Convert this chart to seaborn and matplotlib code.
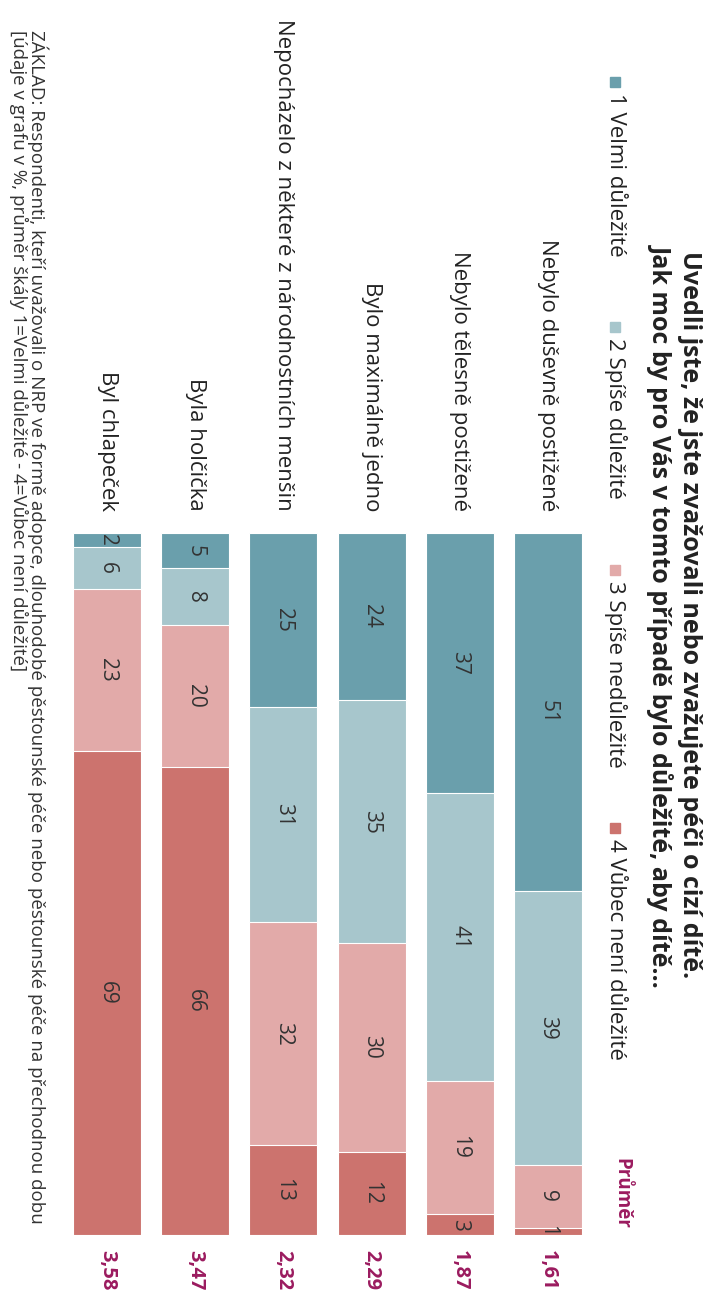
import pandas as pd
import matplotlib.pyplot as plt
from matplotlib.patches import Rectangle
import seaborn as sns

# --------------------------- SETTINGS ---------------------------
sns.set_theme(style="white")
plt.rcParams['font.family'] = ['Open Sans', 'DejaVu Sans']

# --------------------------- DATA ---------------------------
categories = ["Nebylo duševně postižené", "Nebylo tělesně postižené", "Bylo maximálně jedno",
              "Nepocházelo z některé z národnostních menšin", "Byla holčička", "Byl chlapeček"]
levels = ["1 Velmi důležité", "2 Spíše důležité", "3 Spíše nedůležité", "4 Vůbec není důležité"]
velmi = [51, 37, 24, 25, 5, 2]
spise = [39, 41, 35, 31, 8, 6]
spise_ne = [9, 19, 30, 32, 20, 23]
vubec = [1, 3, 12, 13, 66, 69]
prumer = ["1,61", "1,87", "2,29", "2,32", "3,47", "3,58"]

title = ("Uvedli jste, že jste zvažovali nebo zvažujete péči o cizí dítě.\n"
         "Jak moc by pro Vás v tomto případě bylo důležité, aby dítě…")
footnote = ("ZÁKLAD: Respondenti, kteří uvažovali o NRP ve formě adopce, dlouhodobé pěstounské péče "
            "nebo pěstounské péče na přechodnou dobu\n"
            "[údaje v grafu v %, průměr škály 1=Velmi důležité - 4=Vůbec není důležité]")

# --------------------- COLORS ---------------------
colors = ["#6a9fac", "#a7c6cc", "#e2aaa9", "#cc736e"]
avg_color = "#9b1b5f"
text_color = "#333333"

# --------------------- PREP ---------------------
df = pd.DataFrame({levels[0]: velmi, levels[1]: spise, levels[2]: spise_ne, levels[3]: vubec},
                  index=categories)
shares = df.div(df.sum(axis=1), axis=0) * 100
cum = shares.cumsum(axis=1)
cum.index.name = "kategorie"
cum_long = cum.reset_index()
order = categories[::-1]

# --------------------- PLOT (rotated layout) ---------------------
W, H = 714, 1297
fig = plt.figure(figsize=(W / 100, H / 100), dpi=100)
ax = fig.add_axes([63 / W, 1 - 1235 / H, 529 / W, 702 / H])

# stacked bars: draw cumulative totals back to front
for lvl, col in reversed(list(zip(levels, colors))):
    sns.barplot(data=cum_long, x="kategorie", y=lvl, order=order, color=col, saturation=1,
                width=0.77, edgecolor="white", linewidth=0.8, errorbar=None, ax=ax)

ax.set_xlim(-0.5, 5.5)
ax.set_ylim(100, 0)
ax.set_axis_off()

for i, cat in enumerate(order):
    prev = 0
    for lvl in levels:
        mid = prev + shares.loc[cat, lvl] / 2
        ax.text(i, mid, str(df.loc[cat, lvl]), rotation=-90, ha="center", va="center",
                fontsize=15, color=text_color)
        prev = cum.loc[cat, lvl]
    ax.text(i, -3.1, cat, rotation=-90, ha="center", va="bottom", fontsize=16, color="#222222")
    ax.text(i, 102.2, prumer[categories.index(cat)], rotation=-90, ha="center", va="top",
            fontsize=14.5, fontweight="bold", color=avg_color)

# title
fig.text(675 / W, 1 - 615 / H, title, rotation=-90, ha="center", va="center",
         multialignment="center", fontsize=18, fontweight="bold", color="#222222",
         linespacing=1.1)

# legend
for lvl, col, ypx in zip(levels, colors, [82, 327, 570, 828]):
    fig.add_artist(Rectangle((610 / W, 1 - (ypx + 5) / H), 10 / W, 10 / H,
                             transform=fig.transFigure, color=col))
    fig.text(615 / W, 1 - (ypx + 11) / H, lvl, rotation=-90, ha="center", va="top",
             fontsize=16, color="#222222")

fig.text(621 / W, 1 - 1158 / H, "Průměr", rotation=-90, ha="center", va="top",
         fontsize=13.5, fontweight="bold", color=avg_color)

# footnote
fig.text(29 / W, 1 - 30 / H, footnote, rotation=-90, ha="center", va="top",
         multialignment="left", fontsize=13.5, color="#333333", linespacing=0.95,
         family=["Liberation Sans Narrow", "Open Sans", "DejaVu Sans"])

fig.savefig("out.png", dpi=100)
